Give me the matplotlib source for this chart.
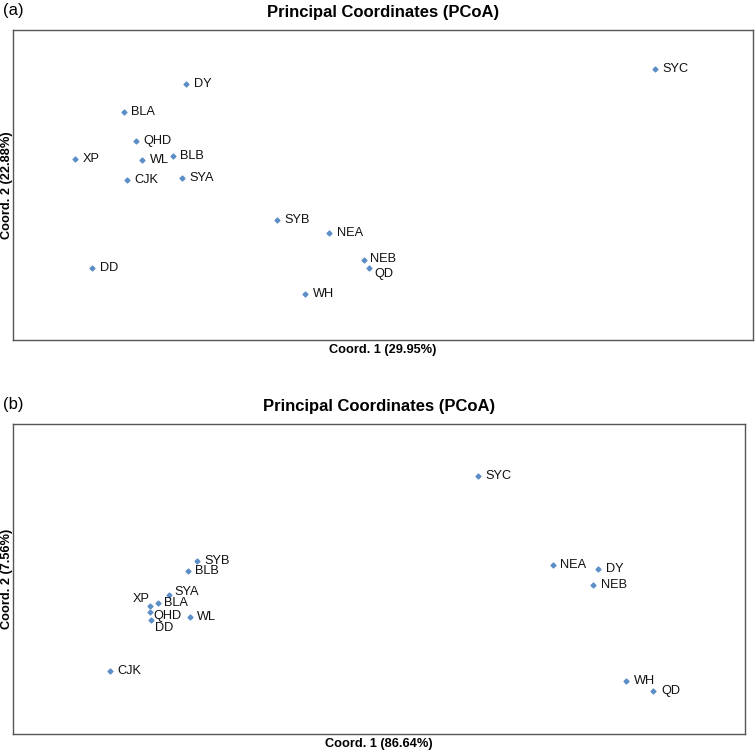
import matplotlib.pyplot as plt

plt.rcParams["font.family"] = ["Liberation Sans", "DejaVu Sans"]

# Panel (a) - PCoA coordinates (arbitrary units)
sites_a = ["SYC", "DY", "BLA", "QHD", "XP", "WL", "BLB", "CJK", "SYA",
           "SYB", "NEA", "NEB", "QD", "DD", "WH"]
coord1_a = [654.7, 186.0, 123.7, 136.0, 74.7, 142.3, 172.7, 127.0, 182.0,
            276.7, 329.3, 364.3, 369.3, 92.0, 305.3]
coord2_a = [68.7, 84.0, 112.0, 141.3, 159.3, 159.7, 156.3, 180.3, 178.0,
            220.0, 233.3, 260.0, 268.0, 268.0, 294.0]

# Panel (b)
sites_b = ["SYC", "SYB", "BLB", "SYA", "BLA", "XP", "QHD", "DD", "WL", "CJK",
           "NEA", "DY", "NEB", "WH", "QD"]
coord1_b = [477.7, 196.7, 187.7, 169.3, 158.0, 150.0, 150.3, 151.0, 189.7, 109.7,
            552.7, 598.0, 593.0, 626.3, 653.3]
coord2_b = [476.0, 561.0, 571.3, 595.3, 603.3, 606.0, 612.0, 620.0, 617.3, 670.7,
            565.3, 569.3, 585.3, 681.3, 691.3]

# label offsets (points) for crowded labels
offs_a = {"NEB": (4, 1), "QD": (4, -4)}
offs_b = {"XP": (0, 5), "BLA": (4, 0), "QHD": (2, -3), "DD": (3, -5.5),
          "SYA": (4, 2.5)}

pt_color = "#5b8ec6"

fig = plt.figure(figsize=(7.56, 7.53), dpi=100)
W, H = 756, 753


def panel(box, xs, ys, names, offs, xlab, ylab, tag, tag_y):
    left, top, right, bottom = box
    ax = fig.add_axes([left / W, 1 - bottom / H, (right - left) / W, (bottom - top) / H])
    ax.scatter(xs, ys, marker="D", s=6, color=pt_color, zorder=3)
    for x, y, n in zip(xs, ys, names):
        dx, dy = offs.get(n, (5.5, 0))
        ha = "right" if n == "XP" and dx == 0 else "left"
        ax.annotate(n, (x, y), xytext=(dx, dy), textcoords="offset points",
                    ha=ha, va="center", fontsize=9.2, color="#111111")
    ax.set_xlim(left, right)
    ax.set_ylim(bottom, top)
    ax.set_xticks([])
    ax.set_yticks([])
    for s in ax.spines.values():
        s.set_color("#555555")
        s.set_linewidth(1.0)
    ax.set_title("Principal Coordinates (PCoA)", fontsize=12, fontweight="bold", pad=9)
    ax.set_xlabel(xlab, fontsize=9.2, fontweight="bold", labelpad=3)
    fig.text(7 / W, 1 - (top + bottom) / 2 / H, ylab, rotation=90, fontsize=9.2,
             fontweight="bold", ha="center", va="center")
    fig.text(3 / W, 1 - tag_y / H, tag, fontsize=12, ha="left", va="center")
    return ax


panel((13, 30, 753, 340), coord1_a, coord2_a, sites_a, offs_a,
      "Coord. 1 (29.95%)", "Coord. 2 (22.88%)", "(a)", 11)
panel((13, 424, 745, 734), coord1_b, coord2_b, sites_b, offs_b,
      "Coord. 1 (86.64%)", "Coord. 2 (7.56%)", "(b)", 404)

plt.savefig("out.png", dpi=100)
plt.close()
